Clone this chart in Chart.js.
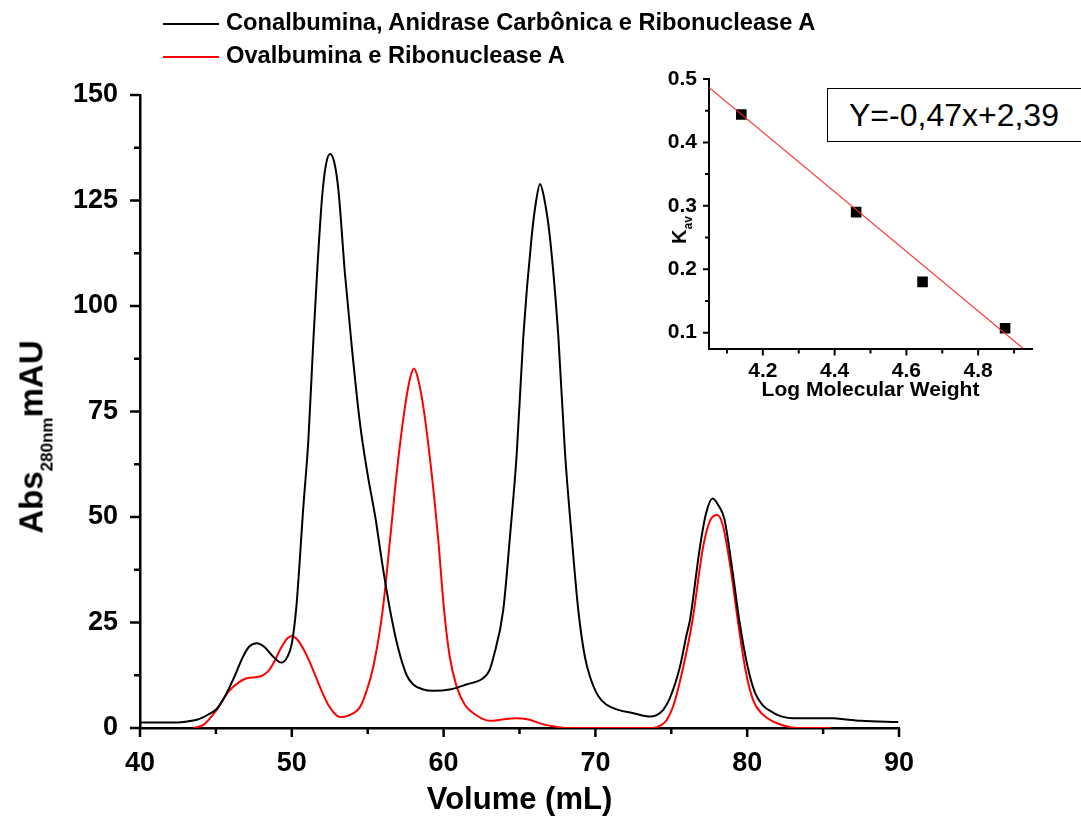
<!DOCTYPE html>
<html>
<head>
<meta charset="utf-8">
<title>Cromatografia de exclusão molecular</title>
<script src="https://cdn.jsdelivr.net/npm/chart.js@4.4.1/dist/chart.umd.min.js"></script>
<style>
  body { margin: 0; width: 1081px; height: 819px; overflow: hidden; background: #fff; position: relative;
         font-family: "Liberation Sans", Arial, sans-serif; color: #000; }
  canvas { position: absolute; }
  #main { left: 0; top: 0; }
  #inset { left: 640px; top: 60px; }
  .leg { position: absolute; left: 163px; height: 24px; font-weight: bold; font-size: 23.7px; line-height: 24px; white-space: nowrap; }
  .leg i { display: inline-block; width: 56px; height: 0; border-top: 2px solid; vertical-align: middle; margin-right: 7px; }
  .rot { position: absolute; transform: translate(-50%, -50%) rotate(-90deg); white-space: nowrap; font-weight: bold; line-height: 1; }
  .rot span { position: relative; }
  #eq { position: absolute; left: 827px; top: 88px; width: 280px; height: 52px; border: 1.5px solid #000; background: #fff;
        font-size: 32px; line-height: 52px; padding-left: 21px; box-sizing: content-box; white-space: nowrap; }
</style>
</head>
<body>
<canvas id="main" width="1081" height="819"></canvas>
<canvas id="inset" width="420" height="350"></canvas>

<div class="leg" style="top:10px"><i style="color:#000"></i>Conalbumina, Anidrase Carbônica e Ribonuclease A</div>
<div class="leg" style="top:43px"><i style="color:#ff0000"></i>Ovalbumina e Ribonuclease A</div>

<div class="rot" style="left:31px; top:437px; font-size:33px">Abs<span style="font-size:17px; top:10px">280nm</span>mAU</div>
<div class="rot" style="left:679px; top:230px; font-size:20px">K<span style="font-size:12px; top:6px">av</span></div>
<div id="eq">Y=-0,47x+2,39</div>

<script>
// Conalbumina, Anidrase Carbônica e Ribonuclease A (volume mL / mAU)
const volBlack = [40.0, 42.0, 43.0, 43.8, 44.5, 45.05, 45.6, 46.2, 46.8, 47.2, 47.7, 48.2, 48.8, 49.3, 49.7,
  50.0, 50.3, 50.76, 51.09, 51.42, 51.7, 52.0, 52.25, 52.52, 52.8, 53.07, 53.5, 53.95, 54.49, 55.0,
  55.5, 56.0, 56.47, 57.0, 57.57, 58.0, 58.6, 59.32, 60.5, 61.5, 62.6, 63.0, 63.3, 63.93, 64.37, 64.82,
  65.25, 65.8, 66.1, 66.35, 66.6, 67.0, 67.56, 68.0, 68.44, 68.87, 69.3, 69.64, 70.2, 70.74, 71.5,
  72.5, 73.6, 74.0, 74.47, 74.9, 75.57, 76.0, 76.23, 76.89, 77.3, 77.72, 78.1, 78.5, 79.0, 79.5,
  80.0, 80.5, 81.0, 81.72, 82.3, 83.04, 85.67, 86.5, 87.5, 89.95];
const absBlack = [1.3, 1.3, 1.5, 2.0, 3.2, 4.5, 7.5, 12, 17, 19.3, 20.1, 19.2, 16.8, 15.5, 16.8,
  20, 28.7, 52.4, 68.2, 91.9, 110, 126, 133.5, 136.0, 134, 127.5, 107.7, 90.4, 72.2, 60,
  50, 38, 28, 19, 12.5, 10.3, 9.2, 8.8, 9.2, 10.3, 11.8, 13.5, 17, 28, 45.3, 65.1,
  92.7, 116.4, 125, 128.9, 126, 116.4, 92.7, 65.1, 45.3, 28, 17, 12.2, 7.5, 5.5, 4.3,
  3.5, 2.7, 3.0, 4.3, 7, 14.5, 22, 25.6, 43, 51, 54.4, 52.8, 49.5, 38, 25,
  15, 8.5, 5.5, 3.6, 2.7, 2.3, 2.3, 2.0, 1.7, 1.4];

// Ovalbumina e Ribonuclease A
const volRed = [43.5, 44.2, 45.05, 45.8, 46.5, 47.03, 47.9, 48.4, 48.78, 49.3, 49.7, 50.0, 50.4, 50.8, 51.2,
  51.6, 52.0, 52.4, 52.8, 53.17, 53.7, 54.5, 54.9, 55.37, 55.99, 56.47, 56.91, 57.46, 57.8, 58.05, 58.3,
  58.66, 59.21, 59.65, 60.03, 60.4, 60.86, 61.4, 61.96, 63.06, 64.0, 64.8, 65.6, 66.35, 67.2, 68.1,
  73.8, 74.3, 74.7, 75.2, 75.79, 76.4, 77.1, 77.6, 78.03, 78.4, 78.9, 79.4, 79.9, 80.4,
  81.0, 81.72, 82.4, 83.26, 85.5];
const absRed = [0, 0.8, 4.3, 8.5, 10.8, 11.8, 12.2, 13.3, 15.3, 19, 21.2, 21.8, 20.8, 18.5, 15.5,
  12, 8.5, 5.5, 3.5, 2.6, 2.9, 5, 8.5, 14.5, 28, 44.5, 60.4, 76.2, 83, 85.2, 83,
  76.2, 60.4, 44.5, 28, 17, 9.8, 5.5, 3.5, 1.7, 2.1, 2.3, 2.0, 1.1, 0.4, 0,
  0, 0.6, 1.9, 6, 14.5, 25.6, 43, 49.5, 50.5, 48, 38, 25, 13.5, 6.5,
  3.3, 1.5, 0.6, 0, 0];

const volTicks = [40, 45, 50, 55, 60, 65, 70, 75, 80, 85, 90];
const volLabels = [40, 50, 60, 70, 80, 90];
const absTicks = [0, 12.5, 25, 37.5, 50, 62.5, 75, 87.5, 100, 112.5, 125, 137.5, 150];
const absLabels = [0, 25, 50, 75, 100, 125, 150];

// curva de calibração (inset)
const logMW = [4.14, 4.46, 4.645, 4.875];
const kav = [0.444, 0.29, 0.18, 0.107];
const fitSlope = -0.47;
const fitIntercept = 2.39;
const logMin = 4.05, logMax = 4.95;
const kavMin = 0.075, kavMax = 0.5;
const logTicks = [4.1, 4.2, 4.3, 4.4, 4.5, 4.6, 4.7, 4.8, 4.9];
const logLabels = [4.2, 4.4, 4.6, 4.8];
const kavTicks = [0.1, 0.15, 0.2, 0.25, 0.3, 0.35, 0.4, 0.45, 0.5];
const kavLabels = [0.1, 0.2, 0.3, 0.4, 0.5];

const FONT = '"Liberation Sans", Arial, sans-serif';

function toXY(xs, ys) {
    return xs.map((v, i) => ({ x: v, y: ys[i] }));
}

// short minor ticks, longer major ticks, drawn outward
const tickMarks = {
    id: 'tickMarks',
    afterDraw(chart, args, opts) {
        const { ctx, scales: { x, y } } = chart;
        ctx.save();
        ctx.strokeStyle = '#000';
        ctx.lineWidth = opts.width;
        ctx.beginPath();
        x.ticks.forEach(t => {
            const px = x.getPixelForValue(t.value);
            const len = t.label !== '' ? opts.xMajor : opts.xMinor;
            ctx.moveTo(px, x.top);
            ctx.lineTo(px, x.top + len);
        });
        y.ticks.forEach(t => {
            const py = y.getPixelForValue(t.value);
            const len = t.label !== '' ? opts.yMajor : opts.yMinor;
            ctx.moveTo(y.right, py);
            ctx.lineTo(y.right - len, py);
        });
        ctx.stroke();
        ctx.restore();
    }
};

new Chart(document.getElementById('main'), {
    type: 'line',
    data: {
        datasets: [
            {
                label: 'Conalbumina, Anidrase Carbônica e Ribonuclease A',
                data: toXY(volBlack, absBlack),
                borderColor: '#000',
                borderWidth: 2,
                pointRadius: 0,
                cubicInterpolationMode: 'monotone',
                fill: false
            },
            {
                label: 'Ovalbumina e Ribonuclease A',
                data: toXY(volRed, absRed),
                borderColor: '#ff0000',
                borderWidth: 2,
                pointRadius: 0,
                cubicInterpolationMode: 'monotone',
                fill: false
            }
        ]
    },
    options: {
        responsive: false,
        animation: false,
        layout: { padding: { left: 0, top: 95, right: 182, bottom: 0 } },
        plugins: {
            legend: { display: false },
            tooltip: { enabled: false },
            tickMarks: { width: 2.5, xMajor: 9, xMinor: 6, yMajor: 10, yMinor: 6 }
        },
        scales: {
            x: {
                type: 'linear',
                min: 40,
                max: 90,
                afterBuildTicks: s => { s.ticks = volTicks.map(v => ({ value: v })); },
                afterFit: s => { s.height = 91; },
                grid: { display: false, drawTicks: true, tickLength: 9 },
                border: { display: true, color: '#000', width: 2.5 },
                ticks: {
                    autoSkip: false, maxRotation: 0, padding: 10, color: '#000',
                    font: { family: FONT, size: 27, weight: 'bold' },
                    callback: v => volLabels.includes(v) ? String(v) : ''
                },
                title: {
                    display: true, text: 'Volume (mL)', color: '#000',
                    font: { family: FONT, size: 31, weight: 'bold' },
                    padding: { top: 0, bottom: 0 }
                }
            },
            y: {
                min: 0,
                max: 150,
                afterBuildTicks: s => { s.ticks = absTicks.map(v => ({ value: v })); },
                afterFit: s => { s.width = 140; },
                grid: { display: false, drawTicks: true, tickLength: 10 },
                border: { display: true, color: '#000', width: 2.5 },
                ticks: {
                    autoSkip: false, padding: 12, color: '#000',
                    font: { family: FONT, size: 27, weight: 'bold' },
                    callback: v => absLabels.includes(v) ? String(v) : ''
                }
            }
        }
    },
    plugins: [tickMarks]
});

const fitEnd = (kavMin - fitIntercept) / fitSlope;
const fitX = [logMin, fitEnd];

new Chart(document.getElementById('inset'), {
    type: 'scatter',
    data: {
        datasets: [
            {
                label: 'ajuste',
                data: toXY(fitX, fitX.map(v => fitSlope * v + fitIntercept)),
                showLine: true,
                borderColor: 'rgba(255, 40, 40, 0.9)',
                borderWidth: 1.2,
                pointRadius: 0
            },
            {
                label: 'padrões',
                data: toXY(logMW, kav),
                pointStyle: 'rect',
                pointRadius: 7.5,
                backgroundColor: '#000',
                borderColor: '#000',
                borderWidth: 0
            }
        ]
    },
    options: {
        responsive: false,
        animation: false,
        layout: { padding: { left: 0, top: 19, right: 28, bottom: 0 } },
        plugins: {
            legend: { display: false },
            tooltip: { enabled: false },
            tickMarks: { width: 2, xMajor: 7, xMinor: 5, yMajor: 6, yMinor: 4 }
        },
        scales: {
            x: {
                type: 'linear',
                min: logMin,
                max: logMax,
                afterBuildTicks: s => { s.ticks = logTicks.map(v => ({ value: v })); },
                afterFit: s => { s.height = 61.5; },
                grid: { display: false, drawTicks: true, tickLength: 7 },
                border: { display: true, color: '#000', width: 2 },
                ticks: {
                    autoSkip: false, maxRotation: 0, padding: 3, color: '#000',
                    font: { family: FONT, size: 21, weight: 'bold' },
                    callback: v => logLabels.includes(v) ? v.toFixed(1) : ''
                },
                title: {
                    display: true, text: 'Log Molecular Weight', color: '#000',
                    font: { family: FONT, size: 21, weight: 'bold' },
                    padding: { top: 0, bottom: 7 }
                }
            },
            y: {
                min: kavMin,
                max: kavMax,
                afterBuildTicks: s => { s.ticks = kavTicks.map(v => ({ value: v })); },
                afterFit: s => { s.width = 69; },
                grid: { display: false, drawTicks: true, tickLength: 6 },
                border: { display: true, color: '#000', width: 2 },
                ticks: {
                    autoSkip: false, padding: 6, color: '#000',
                    font: { family: FONT, size: 21, weight: 'bold' },
                    callback: v => kavLabels.includes(v) ? v.toFixed(1) : ''
                }
            }
        }
    },
    plugins: [tickMarks]
});
</script>
</body>
</html>
